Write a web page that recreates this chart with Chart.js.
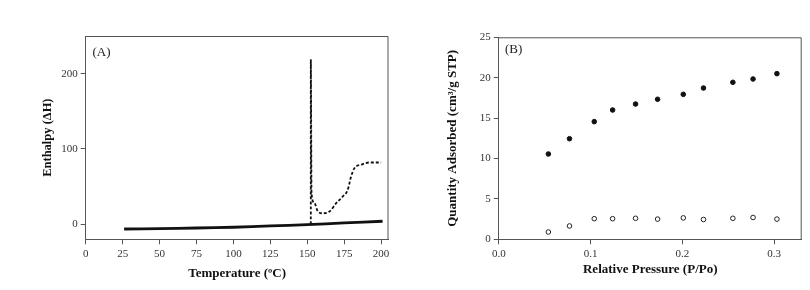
<!DOCTYPE html>
<html>
<head>
<meta charset="utf-8">
<script src="https://cdn.jsdelivr.net/npm/chart.js@4"></script>
<style>
html,body{margin:0;padding:0;background:#fff;}
#wrap{position:relative;width:810px;height:290px;}
.cv{position:absolute;top:0;width:405px;height:290px;}
</style>
</head>
<body>
<div id="wrap">
  <div class="cv" style="left:0"><canvas id="cA" width="405" height="290"></canvas></div>
  <div class="cv" style="left:405px"><canvas id="cB" width="405" height="290"></canvas></div>
</div>
<script>
// Panel A: DSC-type enthalpy curves
const tempSolid = [26, 50, 75, 100, 125, 150, 175, 201];
const enthSolid = [-6.3, -5.8, -5.0, -4.0, -2.3, -0.6, 1.7, 4.0];
const tempDashed = [152.4, 152.4, 152.9, 154.9, 157.2, 160.5, 165, 169.6, 174, 177.4, 179.7, 182, 186.5, 192, 200];
const enthDashed = [0, 219, 41, 28, 17, 14.6, 16.8, 28, 36.8, 45.7, 63.5, 74.6, 79, 82, 82];
const tempTicks = [0, 25, 50, 75, 100, 125, 150, 175, 200];
const enthTicks = [0, 100, 200];

// Panel B: adsorption isotherms
const relPressure = [0.054, 0.077, 0.104, 0.124, 0.149, 0.173, 0.201, 0.223, 0.255, 0.277, 0.303];
const qtyFilled = [10.56, 12.45, 14.56, 16.0, 16.74, 17.33, 17.94, 18.72, 19.43, 19.84, 20.5];
const qtyOpen = [0.9, 1.65, 2.55, 2.55, 2.6, 2.5, 2.65, 2.45, 2.6, 2.7, 2.5];
const pressTicks = [0, 0.1, 0.2, 0.3];
const qtyTicks = [0, 5, 10, 15, 20, 25];

const SERIF = '"Liberation Serif", "Times New Roman", serif';
const AXC = '#555';
const TXC = '#333';

function pts(xs, ys){ return xs.map((x,i)=>({x:x, y:ys[i]})); }

function boxPlugin(label, lx, ly){
  return {
    id:'box'+label,
    afterDraw(chart){
      const {ctx, chartArea:a} = chart;
      ctx.save();
      ctx.strokeStyle = AXC; ctx.lineWidth = 1;
      ctx.beginPath();
      ctx.moveTo(a.left, a.top+0.5); ctx.lineTo(a.right-0.5, a.top+0.5); ctx.lineTo(a.right-0.5, a.bottom);
      ctx.stroke();
      ctx.fillStyle = '#222';
      ctx.font = '13px ' + SERIF;
      ctx.textBaseline = 'middle';
      ctx.fillText(label, lx, ly);
      ctx.restore();
    }
  };
}

function axis(opts){
  return Object.assign({
    type:'linear',
    grid:{drawOnChartArea:false, drawTicks:true, tickLength:5, color:AXC, lineWidth:1},
    border:{color:AXC, width:1},
  }, opts);
}

function fixTicks(arr){
  return function(scale){ scale.ticks = arr.map(v=>({value:v})); };
}

// ---------- Chart A ----------
new Chart(document.getElementById('cA'), {
  type:'scatter',
  data:{datasets:[
    {data:pts(tempSolid, enthSolid), showLine:true, borderColor:'#111', borderWidth:2.8, pointRadius:0, tension:0.3, fill:false},
    {data:pts(tempDashed, enthDashed), showLine:true, borderColor:'#111', borderWidth:1.8, borderDash:[3,2], pointRadius:0, cubicInterpolationMode:'monotone', fill:false}
  ]},
  options:{
    responsive:false, animation:false, events:[],
    layout:{padding:{left:0, top:36, right:16.5, bottom:0}},
    plugins:{legend:{display:false}, tooltip:{enabled:false}},
    scales:{
      x: axis({
        min:0, max:205,
        afterBuildTicks: fixTicks(tempTicks),
        afterFit(s){ s.height = 50.7; },
        ticks:{color:TXC, font:{family:SERIF, size:11}, padding:3, maxRotation:0, autoSkip:false},
        title:{display:true, text:'Temperature (ºC)', color:'#111', font:{family:SERIF, size:13, weight:'bold'}, padding:{top:0, bottom:9}}
      }),
      y: axis({
        min:-20, max:250,
        afterBuildTicks: fixTicks(enthTicks),
        afterFit(s){ s.width = 85.7; },
        ticks:{color:TXC, font:{family:SERIF, size:11}, padding:3},
        title:{display:true, text:'Enthalpy (ΔH)', color:'#111', font:{family:SERIF, size:12.5, weight:'bold'}, padding:{top:40, bottom:0}}
      })
    }
  },
  plugins:[boxPlugin('(A)', 92.5, 53)]
});

// ---------- Chart B ----------
new Chart(document.getElementById('cB'), {
  type:'scatter',
  data:{datasets:[
    {data:pts(relPressure, qtyFilled), pointRadius:2.3, pointBackgroundColor:'#111', pointBorderColor:'#111', pointBorderWidth:1},
    {data:pts(relPressure, qtyOpen), pointRadius:2.3, pointBackgroundColor:'#fff', pointBorderColor:'#222', pointBorderWidth:1}
  ]},
  options:{
    responsive:false, animation:false, events:[],
    layout:{padding:{left:0, top:37.3, right:8.3, bottom:0}},
    plugins:{legend:{display:false}, tooltip:{enabled:false}},
    scales:{
      x: axis({
        min:0, max:0.33,
        afterBuildTicks: fixTicks(pressTicks),
        afterFit(s){ s.height = 50.7; },
        ticks:{color:TXC, font:{family:SERIF, size:11}, padding:3, maxRotation:0, autoSkip:false, callback:v=>Number(v).toFixed(1)},
        title:{display:true, text:'Relative Pressure (P/Po)', color:'#111', font:{family:SERIF, size:13, weight:'bold'}, padding:{top:0, bottom:13}}
      }),
      y: axis({
        min:0, max:25,
        afterBuildTicks: fixTicks(qtyTicks),
        afterFit(s){ s.width = 93.8; },
        ticks:{color:TXC, font:{family:SERIF, size:11}, padding:3},
        title:{display:true, text:'Quantity Adsorbed (cm³/g STP)', color:'#111', font:{family:SERIF, size:13, weight:'bold'}, padding:{top:39.5, bottom:0}}
      })
    }
  },
  plugins:[boxPlugin('(B)', 100, 50)]
});
</script>
</body>
</html>
